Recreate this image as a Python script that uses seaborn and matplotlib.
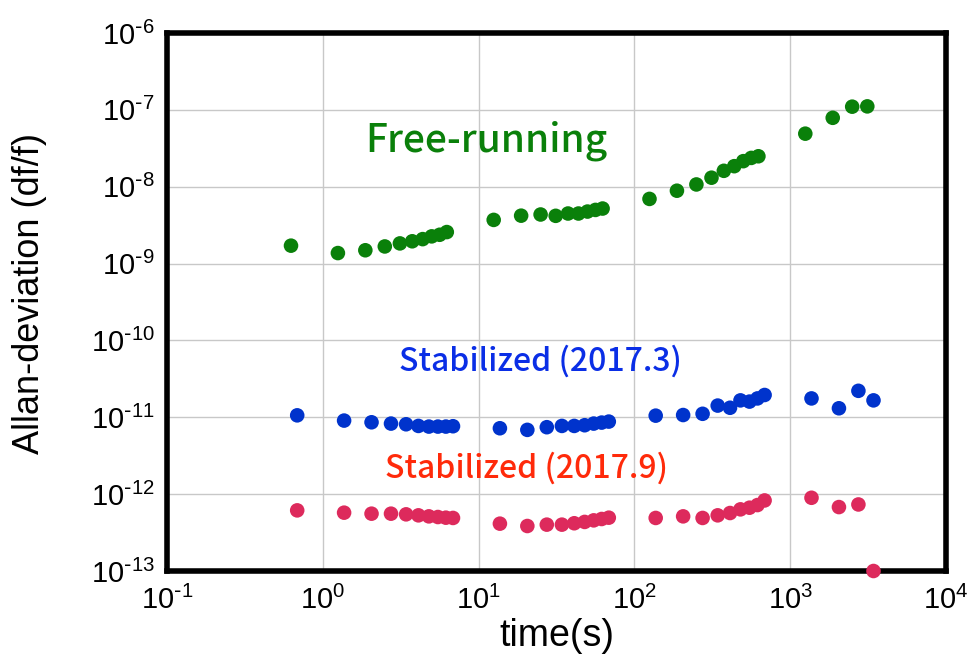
import numpy as np
import pandas as pd
import matplotlib
matplotlib.use("Agg")
import matplotlib.pyplot as plt
import seaborn as sns
from matplotlib.ticker import LogLocator, FuncFormatter, NullLocator

# ---- data ----
t_free = [0.625, 1.25, 1.875, 2.5, 3.125, 3.75, 4.375, 5.0, 5.625, 6.25,
          12.5, 18.75, 25, 31.25, 37.5, 43.75, 50, 56.25, 62.5,
          125, 187.5, 250, 312.5, 375, 437.5, 500, 562.5, 625,
          1250, 1875, 2500, 3125]
adev_free = [1.71e-9, 1.37e-9, 1.49e-9, 1.67e-9, 1.83e-9, 1.95e-9, 2.08e-9, 2.26e-9, 2.37e-9, 2.57e-9,
             3.7e-9, 4.2e-9, 4.35e-9, 4.18e-9, 4.48e-9, 4.48e-9, 4.75e-9, 4.99e-9, 5.2e-9,
             6.94e-9, 8.87e-9, 1.07e-8, 1.31e-8, 1.61e-8, 1.85e-8, 2.15e-8, 2.37e-8, 2.49e-8,
             4.9e-8, 7.88e-8, 1.10e-7, 1.11e-7]

t_stab = [0.685, 1.37, 2.055, 2.74, 3.425, 4.11, 4.795, 5.48, 6.165, 6.85,
          13.7, 20.55, 27.4, 34.25, 41.1, 47.95, 54.8, 61.65, 68.5,
          137, 205.5, 274, 342.5, 411, 479.5, 548, 616.5, 685,
          1370, 2055, 2740, 3425]
adev_2017_3 = [1.06e-11, 9.06e-12, 8.61e-12, 8.28e-12, 8.11e-12, 7.72e-12, 7.57e-12, 7.57e-12, 7.57e-12, 7.65e-12,
               7.2e-12, 6.86e-12, 7.43e-12, 7.72e-12, 7.72e-12, 7.88e-12, 8.28e-12, 8.53e-12, 8.79e-12,
               1.05e-11, 1.07e-11, 1.11e-11, 1.42e-11, 1.33e-11, 1.66e-11, 1.60e-11, 1.76e-11, 1.95e-11,
               1.76e-11, 1.31e-11, 2.21e-11, 1.66e-11]
adev_2017_9 = [6.15e-13, 5.74e-13, 5.57e-13, 5.57e-13, 5.46e-13, 5.3e-13, 5.14e-13, 5.04e-13, 4.94e-13, 4.9e-13,
               4.13e-13, 3.85e-13, 4.01e-13, 4.01e-13, 4.18e-13, 4.35e-13, 4.56e-13, 4.75e-13, 4.94e-13,
               4.9e-13, 5.14e-13, 4.9e-13, 5.3e-13, 5.68e-13, 6.34e-13, 6.66e-13, 7.21e-13, 8.28e-13,
               8.97e-13, 6.79e-13, 7.34e-13, 1.0e-13]

series_names = ["Free-running", "Stabilized (2017.3)", "Stabilized (2017.9)"]
point_colors = ["#0a800a", "#0033cc", "#dd2a5c"]
text_colors = ["#0a800a", "#0a2ee6", "#ff2a0a"]

df = pd.concat([
    pd.DataFrame({"time": t_free, "adev": adev_free, "series": series_names[0]}),
    pd.DataFrame({"time": t_stab, "adev": adev_2017_3, "series": series_names[1]}),
    pd.DataFrame({"time": t_stab, "adev": adev_2017_9, "series": series_names[2]}),
])

# ---- style ----
sns.set_theme(style="white")
plt.rcParams["font.family"] = ["Liberation Sans", "DejaVu Sans"]
plt.rcParams["mathtext.default"] = "regular"
plt.rcParams["text.color"] = "black"
plt.rcParams["axes.labelcolor"] = "black"


def pow10(v, _pos):
    e = int(round(np.log10(v)))
    if e < 0:
        return r"$\mathdefault{10^{\text{-}%d}}$" % (-e)
    return r"$\mathdefault{10^{%d}}$" % e


fig = plt.figure(figsize=(9.69, 6.66), dpi=100)
L, R, T, B = 167, 946, 33, 571
ax = fig.add_axes([L / 969, (666 - B) / 666, (R - L) / 969, (B - T) / 666])

sns.scatterplot(data=df, x="time", y="adev", hue="series", palette=point_colors,
                s=110, edgecolor="none", legend=False, ax=ax, clip_on=False, zorder=3)

ax.set_xscale("log")
ax.set_yscale("log")
ax.set_xlim(1e-1, 1e4)
ax.set_ylim(1e-13, 1e-6)
ax.xaxis.set_major_locator(LogLocator(base=10, numticks=10))
ax.yaxis.set_major_locator(LogLocator(base=10, numticks=10))
ax.xaxis.set_minor_locator(NullLocator())
ax.yaxis.set_minor_locator(NullLocator())
ax.xaxis.set_major_formatter(FuncFormatter(pow10))
ax.yaxis.set_major_formatter(FuncFormatter(pow10))
ax.grid(True, color="#c8c8c8", linewidth=1.0)
ax.set_axisbelow(True)
for sp in ax.spines.values():
    sp.set_color("black")
    sp.set_linewidth(4)
ax.tick_params(axis="both", which="major", labelsize=21, length=4, width=1,
               direction="in", color="#888888", labelcolor="black")
ax.tick_params(axis="x", pad=11)
ax.tick_params(axis="y", pad=9)

ax.set_xlabel("time(s)", fontsize=27, labelpad=2)
ax.set_ylabel("Allan-deviation (df/f)", fontsize=26)
ax.yaxis.set_label_coords(-0.154, 0.515)

label_font = ["Noto Sans CJK JP", "DejaVu Sans"]
ax.text(0.41, 0.80, series_names[0], transform=ax.transAxes, color=text_colors[0],
        fontsize=28, ha="center", va="center", family=label_font, fontweight="medium")
ax.text(0.479, 0.389, series_names[1], transform=ax.transAxes, color=text_colors[1],
        fontsize=23, ha="center", va="center", family=label_font, fontweight="medium")
ax.text(0.462, 0.190, series_names[2], transform=ax.transAxes, color=text_colors[2],
        fontsize=23, ha="center", va="center", family=label_font, fontweight="medium")

fig.savefig("out.png", dpi=100)
